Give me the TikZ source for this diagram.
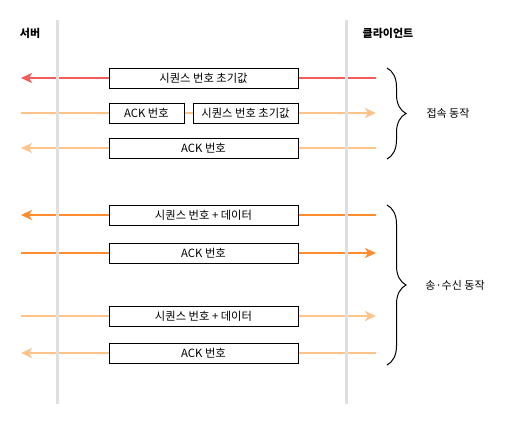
\documentclass[tikz,border=0pt]{standalone}
\usepackage{fontspec}
\usepackage{xcolor}
\usepackage{tikz}
\setmainfont{Noto Sans CJK KR}
\usetikzlibrary{arrows.meta,decorations.pathreplacing}

\definecolor{synred}{HTML}{F45B5B}
\definecolor{paleorange}{HTML}{FFC48C}
\definecolor{deeporange}{HTML}{FF8C2E}
\definecolor{lifegray}{HTML}{DFDFDF}

\begin{document}
\begin{tikzpicture}[x=1pt,y=-1pt]
            \tikzset{msg/.style = {draw, line width=1pt, fill=white, minimum height=20pt, inner sep=0pt, font=\fontsize{11.3}{13}\selectfont}}
            \tikzset{flow/.style = {line width=2pt, -{Stealth[length=11pt,width=10pt,inset=3pt]}}}
            \tikzset{who/.style = {font=\bfseries\fontsize{11}{13}\selectfont}}
            \tikzset{phase/.style = {font=\fontsize{11}{13}\selectfont}}
            \tikzset{grp/.style = {line width=1pt, decorate, decoration={brace, amplitude=19pt}}}
            \useasboundingbox (0,0) rectangle (510,423);

            % end points of the messages
            \foreach \n/\y in {1/78,2/113,3/148,4/215,5/253,6/316,7/353}
            {
              \coordinate (s\n) at (21,\y);
              \coordinate (c\n) at (376,\y);
            }

            % messages
            \draw[flow,synred] (c1) -- (s1);
            \draw[flow,paleorange] (s2) -- (c2);
            \draw[flow,paleorange] (c3) -- (s3);
            \draw[flow,deeporange] (c4) -- (s4);
            \draw[flow,deeporange] (s5) -- (c5);
            \draw[flow,paleorange] (s6) -- (c6);
            \draw[flow,paleorange] (c7) -- (s7);

            % lifelines
            \node[who] (srv) at (30,33) {서버};
            \node[who] (cli) at (388,33) {클라이언트};
            \coordinate (srvtop) at (57,20);
            \coordinate (srvbot) at (57,404);
            \coordinate (clitop) at (346,20);
            \coordinate (clibot) at (346,404);
            \draw[lifegray, line width=3pt] (srvtop) -- (srvbot);
            \draw[lifegray, line width=3pt] (clitop) -- (clibot);

            % boxes
            \node[msg, minimum width=189pt] (m1) at (203.5,78) {시퀀스 번호 초기값};
            \node[msg, minimum width=75pt] (m2a) at (146.5,113) {ACK 번호};
            \node[msg, minimum width=105pt] (m2b) at (245.5,113) {시퀀스 번호 초기값};
            \node[msg, minimum width=189pt] (m3) at (203.5,148) {ACK 번호};
            \node[msg, minimum width=189pt] (m4) at (203.5,215) {시퀀스 번호 + 데이터};
            \node[msg, minimum width=189pt] (m5) at (203.5,253) {ACK 번호};
            \node[msg, minimum width=189pt] (m6) at (203.5,316) {시퀀스 번호 + 데이터};
            \node[msg, minimum width=189pt] (m7) at (203.5,353) {ACK 번호};

            % phases
            \coordinate (g1top) at (387,68);
            \coordinate (g1bot) at (387,159);
            \coordinate (g2top) at (387,205);
            \coordinate (g2bot) at (387,365);
            \draw[grp] (g1top) -- (g1bot);
            \draw[grp] (g2top) -- (g2bot);
            \node[phase] (conn) at (448,113) {접속 동작};
            \node[phase] (xfer) at (455,285) {송·수신 동작};

          \end{tikzpicture}
\end{document}
